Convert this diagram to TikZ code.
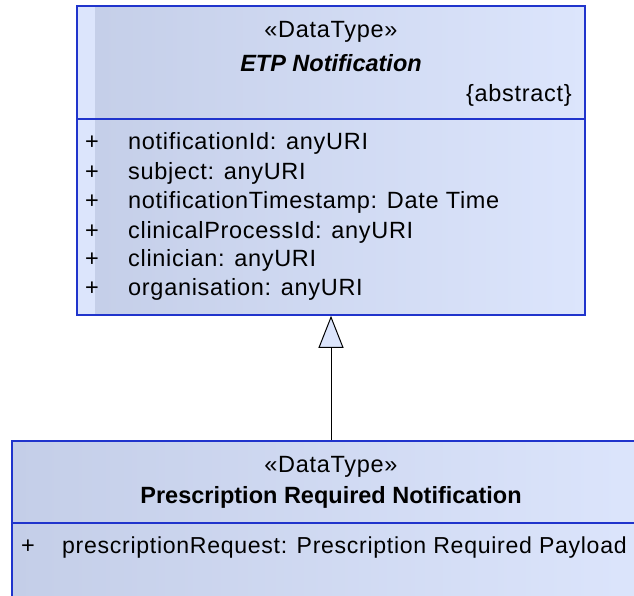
\documentclass[tikz,border=0pt]{standalone}
\usepackage{fontspec}
\setmainfont{Liberation Sans}
\newfontfamily\umlfont[LetterSpace=3]{Liberation Sans}
\usepackage{tikz}
\usetikzlibrary{arrows.meta,positioning,calc}
\definecolor{umlline}{RGB}{32,52,204}
\definecolor{umlfilldark}{RGB}{196,206,232}
\definecolor{umlfilllight}{RGB}{220,229,252}
\tikzset{
  umlclass/.style={draw=umlline, line width=1.6pt, left color=umlfilldark,
    right color=umlfilllight, inner sep=0pt},
  umlstrip/.style={path picture={\fill[umlfilllight]
    (path picture bounding box.north west) rectangle
    ([xshift=18pt]path picture bounding box.south west);}},
  umlsep/.style={draw=umlline, line width=1.2pt},
  umltext/.style={font=\umlfont\fontsize{23.5}{28}\selectfont, inner sep=0pt},
  umlname/.style={umltext, font=\fontsize{23.5}{28}\selectfont\bfseries},
  umlattr/.style={umltext, anchor=base west},
  umlvis/.style={umltext, anchor=base},
  umlgen/.style={line width=1pt, -{Triangle[open, fill=umlfilllight,
    width=25pt, length=32pt, line width=1pt]}},
}

\begin{document}
\begin{tikzpicture}[x=1pt, y=1pt]

\useasboundingbox (0,0) rectangle (634,-596);
\clip (0,0) rectangle (634,-596);

%% ── ETP Notification (abstract) ──────────────────────────────────────────
\node[umlclass, umlstrip, minimum width=508pt, minimum height=309pt]
  (etpbox) at (331,-160.5) {};
\coordinate (etpsep) at (0,-119);
\draw[umlsep] (etpbox.west |- etpsep) -- (etpbox.east |- etpsep);

\node[umltext] (etpstereo) at (331,-32) {«DataType»};
\node[umlname, font=\fontsize{23.5}{28}\selectfont\bfseries\itshape]
  (etpname) at (331,-63) {ETP Notification};
\node[umltext, anchor=east] (etpabstract) at (572,-95) {\{abstract\}};

\node[umlvis] (etpvis1) at (92,-150) {+};
\node[umlattr] (etpattr1) at (128,-150) {notificationId: anyURI};
\node[umlvis] (etpvis2) at (92,-180) {+};
\node[umlattr] (etpattr2) at (128,-180) {subject: anyURI};
\node[umlvis] (etpvis3) at (92,-208) {+};
\node[umlattr] (etpattr3) at (128,-208) {notificationTimestamp: Date Time};
\node[umlvis] (etpvis4) at (92,-238) {+};
\node[umlattr] (etpattr4) at (128,-238) {clinicalProcessId: anyURI};
\node[umlvis] (etpvis5) at (92,-266) {+};
\node[umlattr] (etpattr5) at (128,-266) {clinician: anyURI};
\node[umlvis] (etpvis6) at (92,-295) {+};
\node[umlattr] (etpattr6) at (128,-295) {organisation: anyURI};

%% ── Prescription Required Notification ───────────────────────────────────
\node[umlclass, minimum width=638pt, minimum height=200pt]
  (prbox) at (331,-541) {};
\coordinate (prsep) at (0,-523);
\draw[umlsep] (prbox.west |- prsep) -- (prbox.east |- prsep);

\node[umltext] (prstereo) at (331,-467) {«DataType»};
\node[umlname] (prname) at (331,-497) {Prescription Required Notification};

\node[umlvis] (prvis1) at (28,-553) {+};
\node[umlattr, font=\umlfont\fontsize{23.1}{28}\selectfont] (prattr1) at (62,-553)
  {prescriptionRequest: Prescription Required Payload};

%% ── Generalisation ───────────────────────────────────────────────────────
\draw[umlgen] (prbox.north) -- (etpbox.south);

\end{tikzpicture}
\end{document}
